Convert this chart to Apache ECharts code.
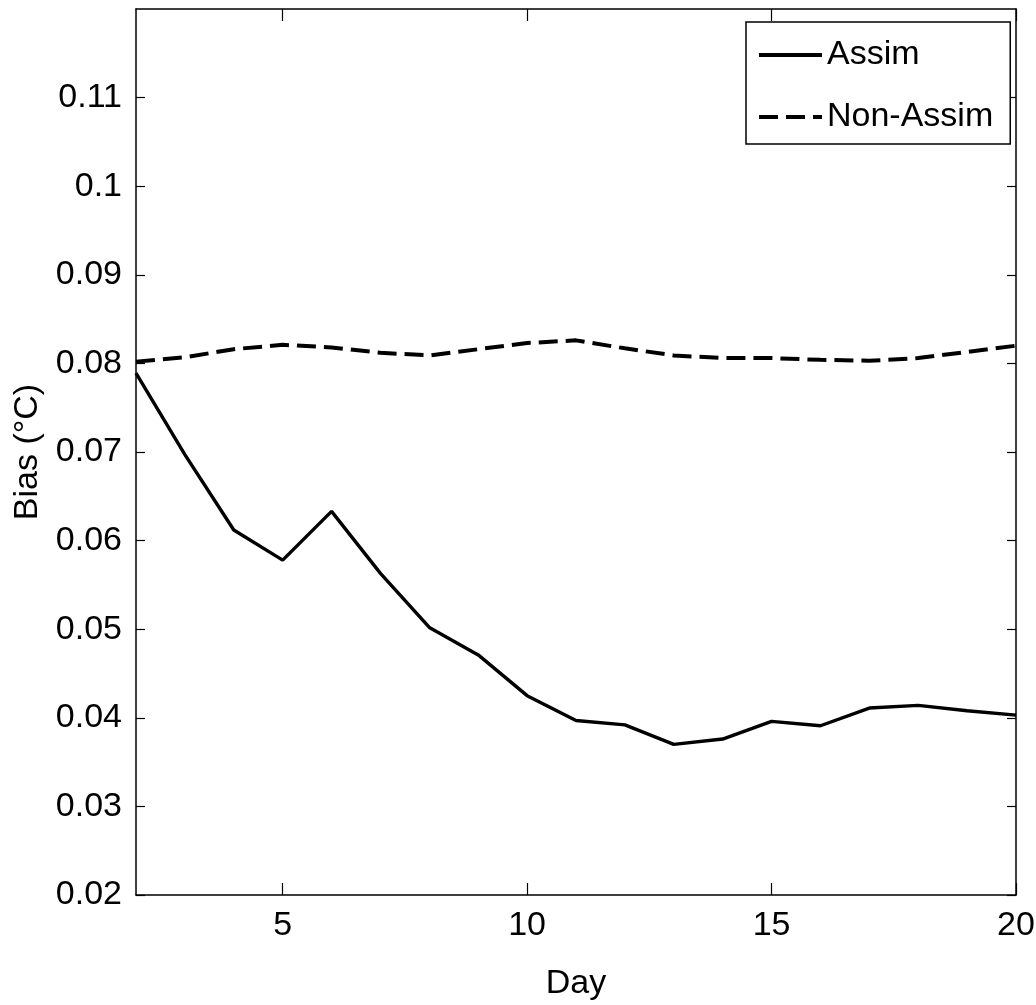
<!DOCTYPE html>
<html>
<head>
<meta charset="utf-8">
<style>
  html, body { margin: 0; padding: 0; background: #fff; }
  #chart { width: 1036px; height: 1005px; }
</style>
<script src="https://cdn.jsdelivr.net/npm/echarts@6/dist/echarts.min.js"></script>
</head>
<body>
<div id="chart"></div>
<script>
// Daily mean bias of temperature, with and without data assimilation
const days = [2, 3, 4, 5, 6, 7, 8, 9, 10, 11, 12, 13, 14, 15, 16, 17, 18, 19, 20];
const assim = [0.0789, 0.0697, 0.0612, 0.0578, 0.0633, 0.0563, 0.0502, 0.0471, 0.0425,
               0.0397, 0.0392, 0.0370, 0.0376, 0.0396, 0.0391, 0.0411, 0.0414, 0.0408, 0.0403];
const nonAssim = [0.0802, 0.0807, 0.0816, 0.0821, 0.0818, 0.0812, 0.0809, 0.0816, 0.0823,
                  0.0826, 0.0817, 0.0809, 0.0806, 0.0806, 0.0804, 0.0803, 0.0806, 0.0813, 0.0820];
const xTicks = [5, 10, 15, 20];
const yTicks = [0.02, 0.03, 0.04, 0.05, 0.06, 0.07, 0.08, 0.09, 0.1, 0.11];

const FONT = '"Liberation Sans", Arial, sans-serif';
const pair = (xs, ys) => xs.map((x, i) => [x, ys[i]]);

const chart = echarts.init(document.getElementById('chart'), null, { renderer: 'canvas' });

const baseX = {
  type: 'value', min: 2, max: 20,
  axisLine: { show: true, onZero: false, lineStyle: { color: '#000', width: 1.5 } },
  axisTick: { show: true, inside: true, length: 12, lineStyle: { color: '#000', width: 1.2 },
              customValues: xTicks },
  splitLine: { show: false }
};
const baseY = {
  type: 'value', min: 0.02, max: 0.12,
  axisLine: { show: true, onZero: false, lineStyle: { color: '#000', width: 1.5 } },
  axisTick: { show: true, inside: true, length: 9, lineStyle: { color: '#000', width: 1.2 },
              customValues: yTicks },
  splitLine: { show: false }
};

chart.setOption({
  animation: false,
  backgroundColor: '#fff',
  grid: { left: 136, right: 20, top: 9, bottom: 110, containLabel: false, outerBoundsMode: 'none' },
  xAxis: [
    Object.assign({}, baseX, {
      position: 'bottom',
      name: 'Day', nameLocation: 'middle', nameGap: 72,
      nameTextStyle: { fontFamily: FONT, fontSize: 34, color: '#000' },
      axisLabel: { show: true, customValues: xTicks, margin: 14,
                   fontFamily: FONT, fontSize: 34, color: '#000',
                   formatter: v => String(v) }
    }),
    Object.assign({}, baseX, { position: 'top', axisLabel: { show: false } })
  ],
  yAxis: [
    Object.assign({}, baseY, {
      position: 'left',
      name: 'Bias (°C)', nameLocation: 'middle', nameGap: 86, nameRotate: 90,
      nameTextStyle: { fontFamily: FONT, fontSize: 34, color: '#000' },
      axisLabel: { show: true, customValues: yTicks, margin: 14,
                   fontFamily: FONT, fontSize: 34, color: '#000',
                   formatter: v => String(+v.toFixed(2)) }
    }),
    Object.assign({}, baseY, { position: 'right', axisLabel: { show: false } })
  ],
  legend: {
    orient: 'vertical', left: 746, top: 22,
    backgroundColor: '#fff',
    borderColor: '#000', borderWidth: 1.5, borderRadius: 0,
    padding: [16, 17, 10, 11],
    itemGap: 28, itemWidth: 63, itemHeight: 12,
    itemStyle: { opacity: 0 },
    lineStyle: { width: 4 },
    textStyle: { fontFamily: FONT, fontSize: 34, color: '#000' },
    data: ['Assim', 'Non-Assim']
  },
  series: [
    {
      name: 'Assim', type: 'line', data: pair(days, assim),
      symbol: 'none', showSymbol: false,
      lineStyle: { color: '#000', width: 3.4, type: 'solid' },
      itemStyle: { color: '#000' }
    },
    {
      name: 'Non-Assim', type: 'line', data: pair(days, nonAssim),
      symbol: 'none', showSymbol: false,
      lineStyle: { color: '#000', width: 4, type: [19, 8] },
      itemStyle: { color: '#000' }
    }
  ]
});
</script>
</body>
</html>
